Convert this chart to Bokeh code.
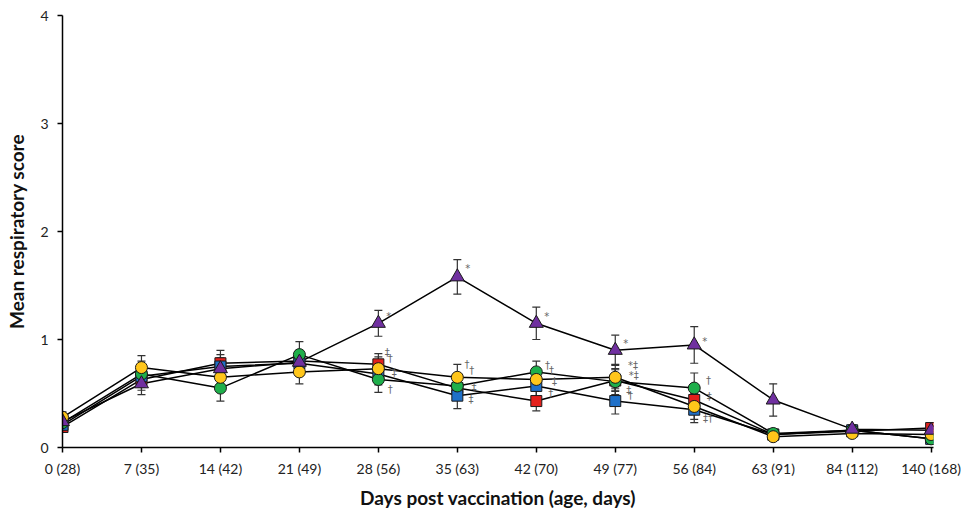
from bokeh.plotting import figure
from bokeh.models import ColumnDataSource, Range1d, FixedTicker, Whisker, TeeHead
from bokeh.embed import file_html
from bokeh.resources import INLINE
from bokeh.core.properties import value

# ---- data ----
tick_labels = ["0 (28)", "7 (35)", "14 (42)", "21 (49)", "28 (56)", "35 (63)",
               "42 (70)", "49 (77)", "56 (84)", "63 (91)", "84 (112)", "140 (168)"]
x_idx = list(range(len(tick_labels)))

red_vals    = [0.19, 0.63, 0.78, 0.80, 0.77, 0.55, 0.43, 0.62, 0.44, 0.12, 0.15, 0.18]
red_err     = [0.05, 0.10, 0.12, 0.10, 0.10, 0.10, 0.09, 0.10, 0.10, 0.03, 0.03, 0.05]
blue_vals   = [0.21, 0.66, 0.75, 0.78, 0.68, 0.48, 0.57, 0.43, 0.35, 0.12, 0.16, 0.08]
blue_err    = [0.05, 0.10, 0.11, 0.10, 0.10, 0.12, 0.10, 0.12, 0.12, 0.03, 0.03, 0.03]
green_vals  = [0.23, 0.68, 0.55, 0.86, 0.63, 0.57, 0.70, 0.61, 0.55, 0.13, 0.16, 0.08]
green_err   = [0.05, 0.12, 0.12, 0.12, 0.12, 0.11, 0.10, 0.12, 0.14, 0.03, 0.04, 0.03]
yellow_vals = [0.28, 0.74, 0.65, 0.70, 0.73, 0.65, 0.63, 0.65, 0.38, 0.10, 0.13, 0.12]
yellow_err  = [0.05, 0.11, 0.11, 0.11, 0.11, 0.12, 0.11, 0.12, 0.12, 0.03, 0.03, 0.03]
purple_vals = [0.24, 0.59, 0.73, 0.79, 1.15, 1.58, 1.15, 0.90, 0.95, 0.44, 0.17, 0.16]
purple_err  = [0.05, 0.10, 0.10, 0.10, 0.12, 0.16, 0.15, 0.14, 0.17, 0.15, 0.04, 0.04]

# significance marks (x position, y value, symbol)
mark_x = [4.1, 5.1, 6.1, 7.1, 8.1,
          4.08, 4.12, 4.17, 4.12,
          5.09, 5.15, 5.18, 5.14,
          6.11, 6.16, 6.2, 6.15,
          7.16, 7.17, 7.14, 7.16,
          8.15, 8.16, 8.11]
mark_y = [1.21, 1.66, 1.21, 0.96, 0.98,
          0.88, 0.82, 0.69, 0.54,
          0.77, 0.71, 0.56, 0.44,
          0.76, 0.71, 0.61, 0.50,
          0.76, 0.67, 0.53, 0.48,
          0.62, 0.47, 0.27]
mark_t = ["*", "*", "*", "*", "*",
          "‡", "†", "‡", "†",
          "†", "†", "‡", "‡",
          "†", "†", "‡", "†",
          "*‡", "*‡", "‡", "†",
          "†", "‡", "‡†"]

series = [
    ("red", red_vals, red_err, "square", "#E3201C", 11),
    ("blue", blue_vals, blue_err, "square", "#1F70C8", 11),
    ("green", green_vals, green_err, "circle", "#1FAF4B", 12),
    ("yellow", yellow_vals, yellow_err, "circle", "#FFC61A", 12),
    ("purple", purple_vals, purple_err, "triangle", "#7030A0", 14),
]

FONT = "Lato"

p = figure(width=969, height=511, output_backend="svg", toolbar_location=None,
           x_range=Range1d(0, 11.03), y_range=Range1d(0, 4),
           min_border_left=62, min_border_right=36, min_border_top=15, min_border_bottom=62)
p.outline_line_color = None
p.xgrid.visible = False
p.ygrid.visible = False
p.background_fill_color = "white"

for ax in (p.xaxis[0], p.yaxis[0]):
    ax.axis_line_color = "black"
    ax.axis_line_width = 1.5
    ax.major_tick_line_color = "black"
    ax.major_tick_line_width = 1.5
    ax.major_tick_in = 0
    ax.major_tick_out = 5
    ax.minor_tick_line_color = None
    ax.major_label_text_font = FONT
    ax.major_label_text_font_size = "14px"
    ax.major_label_text_color = "#222222"
    ax.axis_label_text_font = FONT
    ax.axis_label_text_font_style = "bold"
    ax.axis_label_text_font_size = "19px"
    ax.axis_label_text_color = "#111111"

p.xaxis.ticker = FixedTicker(ticks=x_idx)
p.xaxis.major_label_overrides = {i: t for i, t in zip(x_idx, tick_labels)}
p.xaxis.major_label_standoff = 7
p.xaxis.axis_label = "Days post vaccination (age, days)"
p.xaxis.axis_label_standoff = 6
p.yaxis.ticker = FixedTicker(ticks=[0, 1, 2, 3, 4])
p.yaxis.major_label_standoff = 9
p.yaxis.axis_label = "Mean respiratory score"
p.yaxis.axis_label_standoff = 9

# error bars
for name, vals, err, marker, color, size in series:
    src = ColumnDataSource(dict(x=x_idx, y=vals,
                                lo=[v - e for v, e in zip(vals, err)],
                                hi=[v + e for v, e in zip(vals, err)]))
    w = Whisker(base="x", upper="hi", lower="lo", source=src,
                line_color="#333333", line_width=1.2,
                upper_head=TeeHead(size=8, line_color="#333333", line_width=1.2),
                lower_head=TeeHead(size=8, line_color="#333333", line_width=1.2))
    p.add_layout(w)

# lines
for name, vals, err, marker, color, size in series:
    p.line(x_idx, vals, line_color="black", line_width=1.5)

# markers
for name, vals, err, marker, color, size in series:
    p.scatter(x_idx, vals, marker=marker, size=size, fill_color=color,
              line_color="#1a1a1a", line_width=1)

p.text(mark_x, mark_y, text=mark_t, text_font=value("DejaVu Sans"), text_font_size="10px",
       text_color="#666666", text_align="left", text_baseline="middle")

open("out.html", "w").write(file_html(p, INLINE))
